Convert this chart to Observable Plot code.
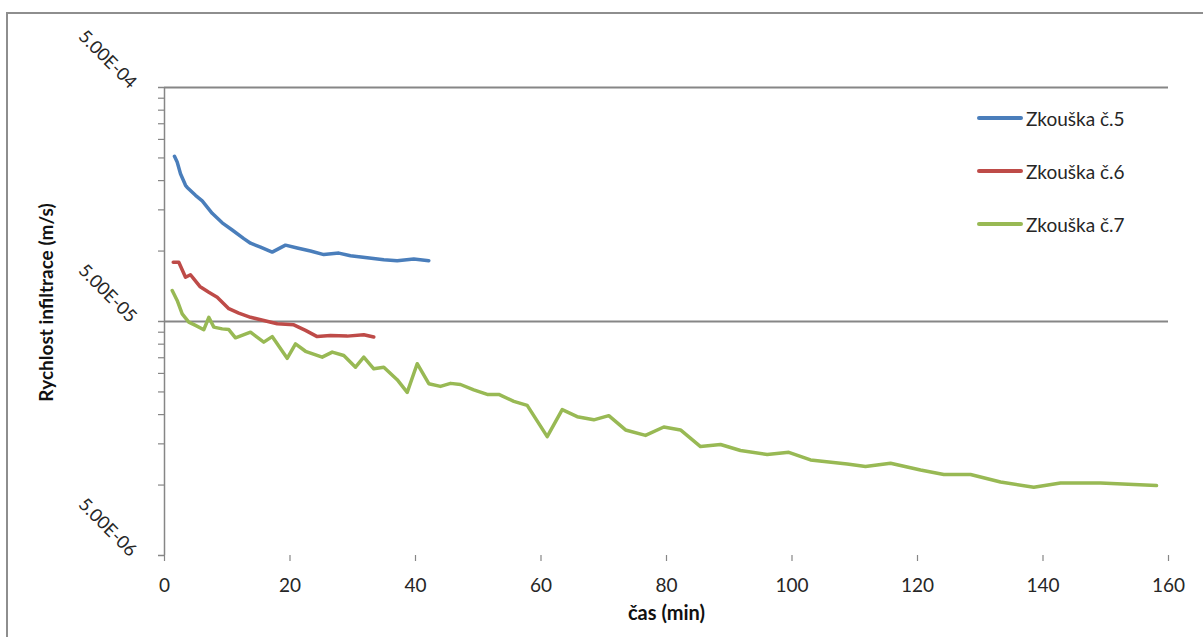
<!DOCTYPE html>
<html>
<head>
<meta charset="utf-8">
<script src="https://cdn.jsdelivr.net/npm/d3@7"></script>
<script src="https://cdn.jsdelivr.net/npm/@observablehq/plot@0.6"></script>
<style>
  html, body { margin: 0; padding: 0; background: #fff; overflow: hidden; width: 1203px; height: 637px; }
  #frame { position: absolute; left: 6px; top: 12px; width: 1300px; height: 800px; border: 2px solid #8e8e8e; box-sizing: border-box; }
  #chart { position: absolute; left: 0; top: 0; }
  #legend { position: absolute; left: 0; top: 0; font-family: Lato, sans-serif; font-size: 19px; color: #262626; }
  .row { position: absolute; left: 977px; height: 24px; display: flex; align-items: center; white-space: nowrap; }
  .sw { width: 46px; height: 3.5px; border-radius: 2px; margin-right: 3px; }
</style>
</head>
<body>
<div id="frame"></div>
<div id="chart"></div>
<div id="legend"></div>
<script>
// Series names and colours
const seriesNames = ["Zkouška č.5", "Zkouška č.6", "Zkouška č.7"];
const seriesColors = ["#4A7EBB", "#BE4B48", "#98B954"];

// Zkouška č.5
const t5 = [1.59, 2.02, 2.55, 3.35, 3.62, 4.94, 6.01, 7.60, 9.20, 10.79, 12.64, 13.71, 15.30, 17.16, 19.28, 21.15, 23.27, 25.39, 27.78, 29.64, 32.30, 34.95, 37.08, 39.73, 42.12];
const v5 = [2.54e-4, 2.40e-4, 2.14e-4, 1.91e-4, 1.87e-4, 1.73e-4, 1.64e-4, 1.45e-4, 1.32e-4, 1.23e-4, 1.13e-4, 1.08e-4, 1.04e-4, 9.9e-5, 1.06e-4, 1.03e-4, 1.0e-4, 9.66e-5, 9.8e-5, 9.55e-5, 9.36e-5, 9.18e-5, 9.1e-5, 9.24e-5, 9.1e-5];

// Zkouška č.6
const t6 = [1.39, 2.28, 3.35, 4.14, 4.67, 5.63, 7.06, 8.40, 10.25, 11.84, 13.71, 15.82, 17.96, 20.61, 22.47, 24.33, 26.45, 29.12, 31.76, 33.35];
const v6 = [8.96e-5, 8.96e-5, 7.73e-5, 7.92e-5, 7.6e-5, 7.06e-5, 6.67e-5, 6.35e-5, 5.67e-5, 5.43e-5, 5.21e-5, 5.05e-5, 4.89e-5, 4.84e-5, 4.58e-5, 4.31e-5, 4.36e-5, 4.33e-5, 4.39e-5, 4.29e-5];

// Zkouška č.7
const t7 = [1.23, 2.02, 2.82, 3.87, 4.94, 6.26, 7.06, 7.86, 9.20, 10.25, 11.31, 13.71, 15.82, 17.16, 19.55, 20.88, 22.47, 25.13, 26.73, 28.57, 30.44, 31.76, 33.35, 34.95, 37.08, 38.68, 40.27, 42.12, 43.98, 45.58, 47.17, 49.29, 51.43, 53.27, 55.67, 57.80, 60.99, 63.38, 65.77, 68.41, 70.80, 73.47, 76.65, 79.57, 82.23, 85.42, 88.61, 91.79, 96.05, 99.49, 102.95, 108.80, 111.71, 115.70, 120.48, 124.19, 128.45, 133.23, 138.53, 142.79, 149.16, 154.47, 158.09];
const v7 = [6.78e-5, 6.15e-5, 5.39e-5, 4.97e-5, 4.81e-5, 4.61e-5, 5.21e-5, 4.73e-5, 4.65e-5, 4.62e-5, 4.26e-5, 4.50e-5, 4.08e-5, 4.31e-5, 3.48e-5, 4.01e-5, 3.73e-5, 3.52e-5, 3.70e-5, 3.58e-5, 3.19e-5, 3.52e-5, 3.14e-5, 3.19e-5, 2.82e-5, 2.49e-5, 3.30e-5, 2.71e-5, 2.64e-5, 2.72e-5, 2.69e-5, 2.55e-5, 2.44e-5, 2.44e-5, 2.28e-5, 2.19e-5, 1.61e-5, 2.10e-5, 1.96e-5, 1.90e-5, 1.98e-5, 1.72e-5, 1.63e-5, 1.77e-5, 1.72e-5, 1.46e-5, 1.49e-5, 1.405e-5, 1.35e-5, 1.38e-5, 1.28e-5, 1.23e-5, 1.20e-5, 1.24e-5, 1.16e-5, 1.11e-5, 1.11e-5, 1.03e-5, 9.79e-6, 1.02e-5, 1.02e-5, 1.005e-5, 9.95e-6];

// Axis ticks and labels
const xTicks = [0, 20, 40, 60, 80, 100, 120, 140, 160];
const yMajorTicks = [5e-6, 5e-5, 5e-4];
const yTickLabels = ["5.00E-06", "5.00E-05", "5.00E-04"];
const yGridTicks = [5e-5, 5e-4];
const yMinorTicks = [1e-5, 1.5e-5, 2e-5, 2.5e-5, 3e-5, 3.5e-5, 4e-5, 4.5e-5, 1e-4, 1.5e-4, 2e-4, 2.5e-4, 3e-4, 3.5e-4, 4e-4, 4.5e-4];
const xLabel = "čas (min)";
const yLabel = "Rychlost infiltrace (m/s)";

const toRows = (ts, vs, s) => ts.map((t, i) => ({t, v: vs[i], s}));
const data = [
  ...toRows(t5, v5, seriesNames[0]),
  ...toRows(t6, v6, seriesNames[1]),
  ...toRows(t7, v7, seriesNames[2])
];

const axisColor = "#868686";
const yMid = Math.sqrt(yMajorTicks[0] * yMajorTicks[yMajorTicks.length - 1]); // geometric centre of the log domain

const chart = Plot.plot({
  width: 1203,
  height: 637,
  marginLeft: 164,
  marginRight: 35,
  marginTop: 87,
  marginBottom: 82,
  style: {fontFamily: "Lato, sans-serif", fontSize: "19px", color: "#333", background: "transparent", overflow: "visible"},
  x: {domain: [0, 160]},
  y: {type: "log", domain: [yMajorTicks[0], yMajorTicks[yMajorTicks.length - 1]]},
  color: {domain: seriesNames, range: seriesColors},
  marks: [
    Plot.ruleY(yGridTicks, {y: d => d, stroke: axisColor, strokeWidth: 1.8}),
    Plot.ruleX([0], {stroke: axisColor, strokeWidth: 1.5}),
    Plot.axisY({ticks: yMinorTicks, tickSize: 6, tickFormat: () => "", stroke: axisColor, strokeWidth: 1.2, label: null}),
    Plot.axisY({ticks: yMajorTicks, tickSize: 6, tickFormat: () => "", stroke: axisColor, strokeWidth: 1.5, label: null}),
    Plot.text(yMajorTicks, {
      y: d => d, frameAnchor: "left", text: (d, i) => yTickLabels[i],
      rotate: 45, textAnchor: "end", lineAnchor: "middle", dx: -31, dy: -2,
      fontSize: 18, fill: "#262626"
    }),
    Plot.axisX({ticks: xTicks, tickSize: 6, tickPadding: 17, stroke: axisColor, strokeWidth: 1.2, fill: "#262626", label: null}),
    Plot.text([xLabel], {text: d => d, frameAnchor: "bottom", dy: 64, fontWeight: "bold", fontSize: 20, fill: "#111"}),
    Plot.text([yLabel], {y: () => yMid, text: d => d, frameAnchor: "left", textAnchor: "middle", lineAnchor: "middle", rotate: -90, dx: -118, dy: -19, fontWeight: "bold", fontSize: 19, fill: "#111"}),
    Plot.line(data, {x: "t", y: "v", z: "s", stroke: "s", strokeWidth: 3.5, strokeLinejoin: "round", strokeLinecap: "round"})
  ]
});
document.getElementById("chart").appendChild(chart);

// Legend
const legend = document.getElementById("legend");
const legendTops = [106, 159, 212];
seriesNames.forEach((name, i) => {
  const row = document.createElement("div");
  row.className = "row";
  row.style.top = legendTops[i] + "px";
  const sw = document.createElement("div");
  sw.className = "sw";
  sw.style.background = seriesColors[i];
  const tx = document.createElement("span");
  tx.textContent = name;
  row.appendChild(sw);
  row.appendChild(tx);
  legend.appendChild(row);
});
</script>
</body>
</html>
